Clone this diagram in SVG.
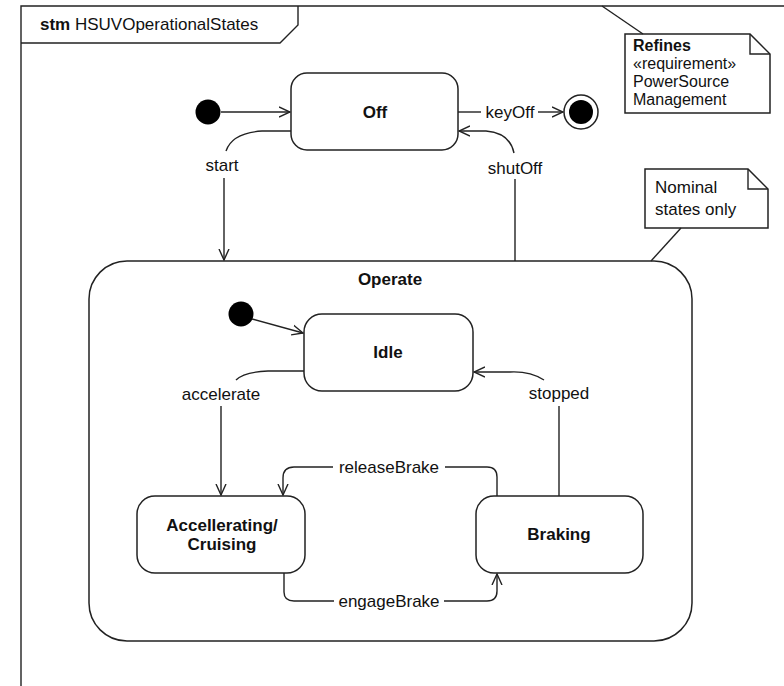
<svg xmlns="http://www.w3.org/2000/svg" width="784" height="686" viewBox="0 0 784 686">
<style>
  .ln{fill:none;stroke:#222;stroke-width:1.4}
  .st{fill:#fff;stroke:#222;stroke-width:1.5}
  .t{font-family:"Liberation Sans",Arial,sans-serif;font-size:17px;fill:#111}
  .n{font-size:16px}
  .b{font-weight:bold}
  .c{text-anchor:middle}
</style>
<defs>
  <marker id="arr" viewBox="0 0 12 12" refX="11" refY="6" markerWidth="12" markerHeight="12" markerUnits="userSpaceOnUse" orient="auto">
    <path d="M0,1 L11,6 L0,11" fill="none" stroke="#222" stroke-width="1.4"/>
  </marker>
</defs>
<rect width="784" height="686" fill="#fff"/>
<g id="frame">
  <path class="ln" d="M21,686 L21,6 L784,6"/>
  <path class="ln" d="M21,43 L280,43 L298,25 L298,6"/>
  <text class="t" x="40" y="30"><tspan class="b">stm</tspan> HSUVOperationalStates</text>
</g>
<g id="operate">
  <rect class="st" x="89" y="261" width="603" height="380" rx="38" ry="38"/>
  <text class="t b c" x="390" y="285">Operate</text>
</g>
<g id="initial">
  <circle cx="208" cy="112" r="12.5" fill="#000"/>
</g>
<g id="off">
  <rect class="st" x="291" y="73" width="167" height="77" rx="16" ry="16"/>
  <text class="t b c" x="375" y="118">Off</text>
</g>
<g id="final">
  <circle cx="581" cy="112" r="17" fill="#fff" stroke="#222" stroke-width="1.5"/>
  <circle cx="581" cy="112" r="12" fill="#000"/>
</g>
<g id="initial2">
  <circle cx="241" cy="314" r="12.5" fill="#000"/>
</g>
<g id="idle">
  <rect class="st" x="304" y="314" width="169" height="77" rx="18" ry="18"/>
  <text class="t b c" x="388" y="358">Idle</text>
</g>
<g id="accel">
  <rect class="st" x="137" y="496" width="168" height="77" rx="18" ry="18"/>
  <text class="t b c" x="222" y="531">Accellerating/</text>
  <text class="t b c" x="222" y="550">Cruising</text>
</g>
<g id="braking">
  <rect class="st" x="476" y="496" width="167" height="77" rx="18" ry="18"/>
  <text class="t b c" x="559" y="540">Braking</text>
</g>
<g id="note-refines">
  <path class="st" d="M625,34 L750,34 L770,54 L770,113 L625,113 Z"/>
  <path class="ln" d="M750,34 L750,54 L770,54"/>
  <text class="t n b" x="633" y="51">Refines</text>
  <text class="t n" x="633" y="69">«requirement»</text>
  <text class="t n" x="633" y="87">PowerSource</text>
  <text class="t n" x="633" y="105">Management</text>
</g>
<g id="note-nominal">
  <path class="st" d="M645,169 L748,169 L768,189 L768,228 L645,228 Z"/>
  <path class="ln" d="M748,169 L748,189 L768,189"/>
  <text class="t" x="655" y="193">Nominal</text>
  <text class="t" x="655" y="215">states only</text>
</g>
<g id="connectors">
  <path class="ln" d="M643,34 L602,6"/>
  <path class="ln" d="M681,228 L651,261"/>
  <path class="ln" d="M221,112 L290,112" marker-end="url(#arr)"/>
  <path class="ln" d="M458,112 L481,112"/>
  <text class="t c" x="510" y="118">keyOff</text>
  <path class="ln" d="M538,112 L563,112" marker-end="url(#arr)"/>
  <path class="ln" d="M291,131 L262,131 Q232,133 226,151"/>
  <text class="t c" x="222" y="171">start</text>
  <path class="ln" d="M224,178 L224,260" marker-end="url(#arr)"/>
  <path class="ln" d="M515,261 L515,179"/>
  <text class="t c" x="515" y="174">shutOff</text>
  <path class="ln" d="M514,153 Q510,133 486,131 L459,131" marker-end="url(#arr)"/>
  <path class="ln" d="M252,319 L303,333" marker-end="url(#arr)"/>
  <path class="ln" d="M304,371 L268,371 Q244,372 236,380"/>
  <text class="t c" x="221" y="400">accelerate</text>
  <path class="ln" d="M221,406 L221,495" marker-end="url(#arr)"/>
  <path class="ln" d="M559,496 L559,406"/>
  <text class="t c" x="559" y="399">stopped</text>
  <path class="ln" d="M544,380 Q530,371 510,372 L474,372" marker-end="url(#arr)"/>
  <path class="ln" d="M497,496 L497,477 Q497,467 487,467 L445,467"/>
  <text class="t c" x="389" y="473">releaseBrake</text>
  <path class="ln" d="M333,467 L294,467 Q283,467 283,478 L283,495" marker-end="url(#arr)"/>
  <path class="ln" d="M284,573 L284,592 Q284,601 294,601 L334,601"/>
  <text class="t c" x="389" y="607">engageBrake</text>
  <path class="ln" d="M444,601 L487,601 Q497,601 497,591 L497,574" marker-end="url(#arr)"/>
</g>
</svg>
